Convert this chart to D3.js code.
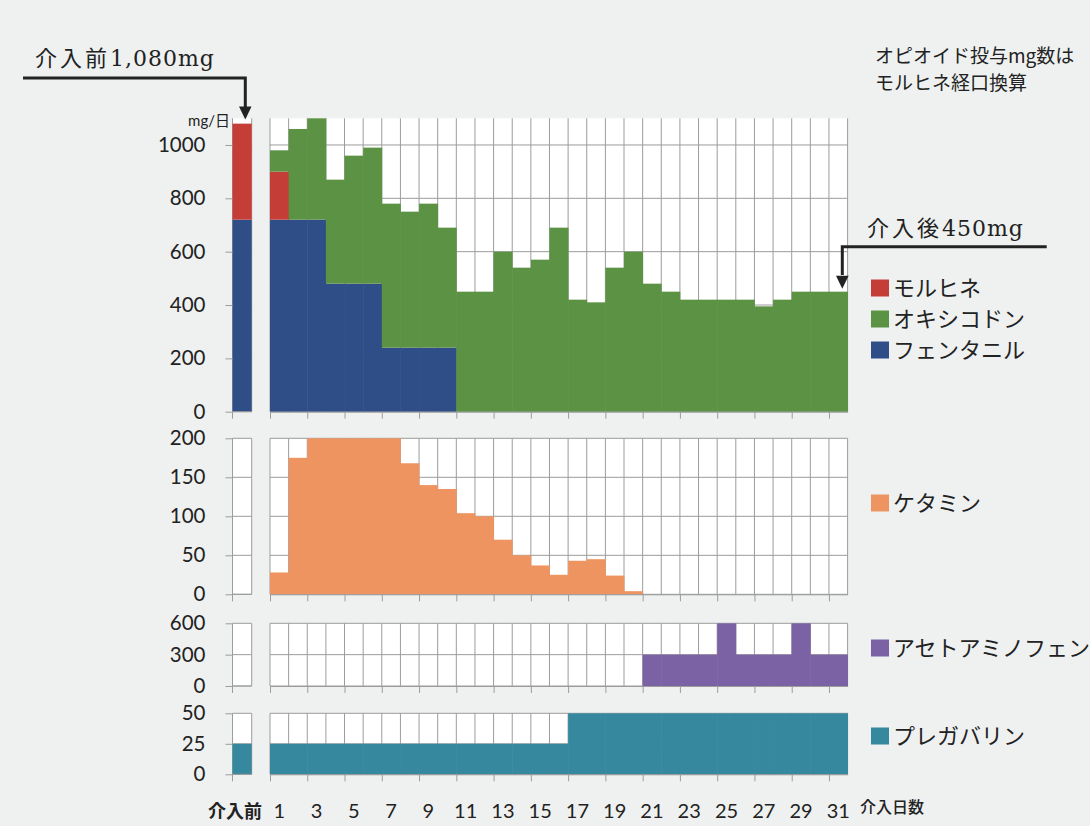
<!DOCTYPE html>
<html><head><meta charset="utf-8">
<script src="https://cdn.jsdelivr.net/npm/d3@7"></script>
<style>
html,body{margin:0;padding:0;background:#eff1f1;}
svg{display:block;}
</style></head>
<body>
<svg id="chart" width="1090" height="826"></svg>
<script>
// ---------- data ----------
const days = d3.range(1, 32);
const dayLabels = days.filter(d => d % 2 === 1).map(String);
const preLabel = "介入前";
// opioids (mg/day, oral morphine equivalent)
const fentanyl  = [720,720,720,480,480,480,240,240,240,240,0,0,0,0,0,0,0,0,0,0,0,0,0,0,0,0,0,0,0,0,0];
const morphine  = [180,0,0,0,0,0,0,0,0,0,0,0,0,0,0,0,0,0,0,0,0,0,0,0,0,0,0,0,0,0,0];
const oxycodone = [80,340,380,390,480,510,540,510,540,450,450,450,600,540,570,690,420,410,540,600,480,450,420,420,420,420,395,420,450,450,450];
const ketamine  = [28,175,200,200,200,200,200,168,140,135,104,100,70,50,37,25,43,45,24,4,0,0,0,0,0,0,0,0,0,0,0];
const acetaminophen = [0,0,0,0,0,0,0,0,0,0,0,0,0,0,0,0,0,0,0,0,300,300,300,300,600,300,300,300,600,300,300];
const pregabalin = [25,25,25,25,25,25,25,25,25,25,25,25,25,25,25,25,50,50,50,50,50,50,50,50,50,50,50,50,50,50,50];
const preFentanyl = 720, preMorphine = 360, preOxycodone = 0;
const preKetamine = 0, preAcetaminophen = 0, prePregabalin = 25;
const opioidTicks = [0,200,400,600,800,1000];
const ketamineTicks = [0,50,100,150,200];
const acetaminophenTicks = [0,300,600];
const pregabalinTicks = [0,25,50];
const opioidNames = ["モルヒネ","オキシコドン","フェンタニル"];

// ---------- styling ----------
const C = {morphine:"#c43d36", oxycodone:"#5c9243", fentanyl:"#2f4e87",
           ketamine:"#ee9460", acetaminophen:"#7b62a4", pregabalin:"#35889d"};
const grid = "#9c9c9c";
const numFont = "Lato, 'Noto Sans CJK JP', sans-serif";
const jpFont = "'Noto Sans CJK JP', sans-serif";
const serifFont = "'DejaVu Serif', 'Noto Sans CJK JP', serif";

const svg = d3.select("#chart");
const x = d3.scaleBand().domain(days).range([270, 847.6]).padding(0);
const xLin = d3.scaleLinear().domain([0, 31]).range([270, 847.6]);
const xPre = d3.scaleBand().domain([preLabel]).range([232.5, 251.7]).padding(0);

const panels = [
  {name:"opioid", domain:[0,1100], range:[411.7,118.3], ticks:opioidTicks},
  {name:"ketamine", domain:[0,200], range:[594.3,438.3], ticks:ketamineTicks},
  {name:"acetaminophen", domain:[0,600], range:[686,623.3], ticks:acetaminophenTicks},
  {name:"pregabalin", domain:[0,50], range:[774.3,713.3], ticks:pregabalinTicks}
];

panels.forEach(p => {
  const y = d3.scaleLinear().domain(p.domain).range(p.range);
  p.y = y;
  const g = svg.append("g");
  const top = y(p.domain[1]), bot = y(0);
  g.append("rect").attr("x", xPre.range()[0]).attr("y", top)
    .attr("width", xPre.bandwidth()).attr("height", bot - top).attr("fill", "#fff");
  g.append("rect").attr("x", xLin(0)).attr("y", top)
    .attr("width", xLin(31) - xLin(0)).attr("height", bot - top).attr("fill", "#fff");
  p.ticks.forEach(t => {
    g.append("line").attr("x1", xPre.range()[0]).attr("x2", xPre.range()[1])
      .attr("y1", y(t)).attr("y2", y(t)).attr("stroke", grid).attr("stroke-width", 1);
    g.append("line").attr("x1", xLin(0)).attr("x2", xLin(31))
      .attr("y1", y(t)).attr("y2", y(t)).attr("stroke", grid).attr("stroke-width", 1);
  });
  d3.range(0, 32).forEach(i => {
    g.append("line").attr("x1", xLin(i)).attr("x2", xLin(i))
      .attr("y1", top).attr("y2", bot).attr("stroke", grid).attr("stroke-width", 1);
  });
  xPre.range().forEach(v => {
    g.append("line").attr("x1", v).attr("x2", v)
      .attr("y1", top).attr("y2", bot).attr("stroke", grid).attr("stroke-width", 1);
  });
  p.g = g;
});

// ---------- bars ----------
function bars(p, vals, base, color, preVal, preBase) {
  const y = p.y;
  p.g.selectAll(null).data(days).join("rect")
    .attr("x", d => x(d)).attr("width", x.bandwidth() + 0.4)
    .attr("y", (d, i) => y(base[i] + vals[i]))
    .attr("height", (d, i) => Math.max(0, y(base[i]) - y(base[i] + vals[i])))
    .attr("fill", color);
  if (preVal > 0) {
    p.g.append("rect").attr("x", xPre(preLabel)).attr("width", xPre.bandwidth())
      .attr("y", y(preBase + preVal)).attr("height", y(preBase) - y(preBase + preVal))
      .attr("fill", color);
  }
}
const zeros = days.map(() => 0);
const baseMor = fentanyl.slice();
const baseOxy = fentanyl.map((v, i) => v + morphine[i]);
bars(panels[0], fentanyl, zeros, C.fentanyl, preFentanyl, 0);
bars(panels[0], morphine, baseMor, C.morphine, preMorphine, preFentanyl);
bars(panels[0], oxycodone, baseOxy, C.oxycodone, preOxycodone, preFentanyl + preMorphine);
bars(panels[1], ketamine, zeros, C.ketamine, preKetamine, 0);
bars(panels[2], acetaminophen, zeros, C.acetaminophen, preAcetaminophen, 0);
bars(panels[3], pregabalin, zeros, C.pregabalin, prePregabalin, 0);

// ---------- axes ----------
panels.forEach(p => {
  const bot = p.y(0);
  const ax = p.g.append("g").attr("transform", `translate(0,${bot})`)
    .call(d3.axisBottom(xLin).tickValues(d3.range(0, 31, 2)).tickFormat("").tickSizeInner(7).tickSizeOuter(0));
  ax.select(".domain").attr("stroke", grid);
  ax.selectAll(".tick line").attr("stroke", grid);
  const ax2 = p.g.append("g").attr("transform", `translate(0,${bot})`);
  ax2.append("line").attr("x1", xPre.range()[0]).attr("x2", xPre.range()[1]).attr("stroke", grid);
  ax2.append("line").attr("x1", xPre.range()[0]).attr("x2", xPre.range()[0]).attr("y2", 7).attr("stroke", grid);
  const ay = p.g.append("g").attr("transform", `translate(${xPre.range()[0]},0)`)
    .call(d3.axisLeft(p.y).tickValues(p.ticks).tickSizeInner(7).tickSizeOuter(0).tickPadding(20).tickFormat(d3.format("d")));
  ay.select(".domain").remove();
  ay.selectAll(".tick line").attr("stroke", grid);
  ay.selectAll(".tick text").attr("font-family", numFont).attr("font-size", 20.5).attr("fill", "#222");
});

// x labels
const xl = svg.append("g");
xl.selectAll(null).data(dayLabels).join("text")
  .attr("x", d => x(+d) + x.bandwidth() / 2).attr("y", 818)
  .attr("text-anchor", "middle").attr("font-family", numFont).attr("font-size", 20).attr("fill", "#222")
  .text(d => d);
xl.append("text").attr("x", 235).attr("y", 818).attr("text-anchor", "middle")
  .attr("font-family", jpFont).attr("font-size", 18).attr("font-weight", "bold").attr("fill", "#222")
  .text(preLabel);
xl.append("text").attr("x", 860).attr("y", 813)
  .attr("font-family", jpFont).attr("font-size", 16).attr("font-weight", 500).attr("fill", "#222")
  .text("介入日数");

// unit label
svg.append("text").attr("x", 230).attr("y", 126).attr("text-anchor", "end")
  .attr("font-family", numFont).attr("font-size", 15).attr("fill", "#222").text("mg/日");

// ---------- legend ----------
const legendItems = [
  {label:opioidNames[0], color:C.morphine, y:288},
  {label:opioidNames[1], color:C.oxycodone, y:319},
  {label:opioidNames[2], color:C.fentanyl, y:350},
  {label:"ケタミン", color:C.ketamine, y:503},
  {label:"アセトアミノフェン", color:C.acetaminophen, y:648},
  {label:"プレガバリン", color:C.pregabalin, y:736}
];
const lg = svg.append("g");
legendItems.forEach(it => {
  lg.append("rect").attr("x", 871).attr("y", it.y - 8.5).attr("width", 18).attr("height", 17).attr("fill", it.color);
  lg.append("text").attr("x", 893).attr("y", it.y).attr("dy", "0.36em")
    .attr("font-family", jpFont).attr("font-size", 22).attr("fill", "#222").text(it.label);
});

// note
svg.append("text").attr("x", 875).attr("y", 63).attr("font-family", jpFont).attr("font-size", 19).attr("fill", "#222")
  .text("オピオイド投与mg数は");
svg.append("text").attr("x", 875).attr("y", 90).attr("font-family", jpFont).attr("font-size", 19).attr("fill", "#222")
  .text("モルヒネ経口換算");

// ---------- annotations ----------
const preTotal = preFentanyl + preMorphine + preOxycodone;
const lastTotal = fentanyl[30] + morphine[30] + oxycodone[30];
const ann = svg.append("g");
function annText(xp, yp, head, num) {
  const t = ann.append("text").attr("x", xp).attr("y", yp).attr("fill", "#222");
  t.append("tspan").attr("font-family", jpFont).attr("font-size", 22).attr("letter-spacing", 3).text(head);
  t.append("tspan").attr("font-family", serifFont).attr("font-size", 22).attr("letter-spacing", 1).text(num);
}
annText(35, 66, "介入前", d3.format(",")(preTotal) + "mg");
ann.append("path").attr("d", "M23,78 H245.3 V108").attr("fill", "none").attr("stroke", "#222").attr("stroke-width", 3);
ann.append("path").attr("d", "M239,106.5 H251.5 L245.3,119.5 Z").attr("fill", "#222");

annText(867, 236, "介入後", lastTotal + "mg");
ann.append("path").attr("d", "M1046.7,246.7 H842.3 V275").attr("fill", "none").attr("stroke", "#222").attr("stroke-width", 3);
const tipY = panels[0].y(lastTotal) - 3;
ann.append("path").attr("d", `M836,${tipY - 13} H848.6 L842.3,${tipY} Z`).attr("fill", "#222");
</script>
</body></html>
